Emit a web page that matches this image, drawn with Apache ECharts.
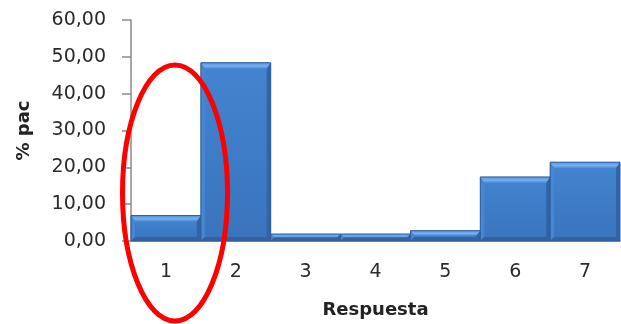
<!DOCTYPE html>
<html>
<head>
<meta charset="utf-8">
<script src="https://cdn.jsdelivr.net/npm/echarts@6/dist/echarts.min.js"></script>
<style>
  html, body { margin: 0; padding: 0; background: #ffffff; }
  #chart { width: 621px; height: 324px; }
</style>
</head>
<body>
<div id="chart"></div>
<script>
// Response categories and percentage of patients per response
const categories = ['1', '2', '3', '4', '5', '6', '7'];
const percentPac = [6.9, 48.4, 1.9, 1.9, 2.8, 17.4, 21.4];
const yTicks = [0, 10, 20, 30, 40, 50, 60];

const FONT = 'DejaVu Sans';

// Bevelled bar drawn from the axis coordinates of each data item
function renderBevelBar(params, api) {
  const idx = api.value(0);
  const val = api.value(1);
  const top = api.coord([idx, val]);
  const base = api.coord([idx, 0]);
  const w = api.size([1, 0])[0];
  const x0 = top[0] - w / 2;
  const x1 = top[0] + w / 2;
  const y0 = top[1];
  const y1 = base[1];
  const h = y1 - y0;
  const b = Math.min(6, h / 2);   // bevel depth
  const s = Math.min(4, h / 2);   // side bevel width
  const children = [
    // front face
    { type: 'rect', shape: { x: x0, y: y0, width: w, height: h },
      style: { fill: { type: 'linear', x: 0, y: 0, x2: 0, y2: 1,
        colorStops: [{ offset: 0, color: '#4384d0' }, { offset: 1, color: '#3a74bd' }] } } },
    // top bevel
    { type: 'polygon', shape: { points: [[x0, y0], [x1, y0], [x1 - s, y0 + b], [x0 + s, y0 + b]] },
      style: { fill: { type: 'linear', x: 0, y: 0, x2: 0, y2: 1,
        colorStops: [{ offset: 0, color: '#5593dc' }, { offset: 0.55, color: '#78b0ee' }, { offset: 1, color: '#4a89d4' }] } } },
    // left bevel
    { type: 'polygon', shape: { points: [[x0, y0], [x0 + s, y0 + b], [x0 + s, y1 - s], [x0, y1]] },
      style: { fill: '#4686d2' } },
    // right bevel
    { type: 'polygon', shape: { points: [[x1, y0], [x1 - s, y0 + b], [x1 - s, y1 - s], [x1, y1]] },
      style: { fill: '#3064a8' } },
    // bottom bevel
    { type: 'polygon', shape: { points: [[x0, y1], [x0 + s, y1 - s], [x1 - s, y1 - s], [x1, y1]] },
      style: { fill: '#33629f' } },
    { type: 'rect', shape: { x: x0, y: y0, width: w, height: h },
      style: { fill: 'none', stroke: '#2e5d99', lineWidth: 1 } }
  ];
  return { type: 'group', children: children };
}

const chart = echarts.init(document.getElementById('chart'), null, { renderer: 'canvas' });

chart.setOption({
  animation: false,
  backgroundColor: '#ffffff',
  grid: { left: 131, right: 1, top: 20, bottom: 82, containLabel: false },
  xAxis: {
    type: 'category',
    data: categories,
    boundaryGap: true,
    name: 'Respuesta',
    nameLocation: 'middle',
    nameGap: 60,
    nameTextStyle: { fontFamily: FONT, fontSize: 18, fontWeight: 'bold', color: '#222222' },
    axisLine: { lineStyle: { color: '#8a8a8a', width: 1.5 } },
    axisTick: { show: false },
    axisLabel: { margin: 22, fontFamily: FONT, fontSize: 19, color: '#2a2a2a' }
  },
  yAxis: {
    type: 'value',
    min: yTicks[0],
    max: yTicks[yTicks.length - 1],
    interval: 10,
    name: '% pac',
    nameLocation: 'middle',
    nameRotate: 90,
    nameGap: 98,
    nameTextStyle: { fontFamily: FONT, fontSize: 18, fontWeight: 'bold', color: '#222222' },
    splitLine: { show: false },
    axisLine: { show: true, lineStyle: { color: '#8a8a8a', width: 1.5 } },
    axisTick: { show: true, length: 9, lineStyle: { color: '#8a8a8a', width: 1.5 } },
    axisLabel: {
      margin: 25,
      fontFamily: FONT,
      fontSize: 19,
      color: '#2a2a2a',
      formatter: v => v.toFixed(2).replace('.', ',')
    }
  },
  series: [{
    type: 'custom',
    renderItem: renderBevelBar,
    encode: { x: 0, y: 1 },
    data: categories.map((c, i) => [i, percentPac[i]])
  }],
  graphic: [{
    type: 'ellipse',
    shape: { cx: 175, cy: 193, rx: 52.5, ry: 128 },
    style: { fill: 'none', stroke: '#ff0000', lineWidth: 5 },
    z: 100
  }]
});
</script>
</body>
</html>
